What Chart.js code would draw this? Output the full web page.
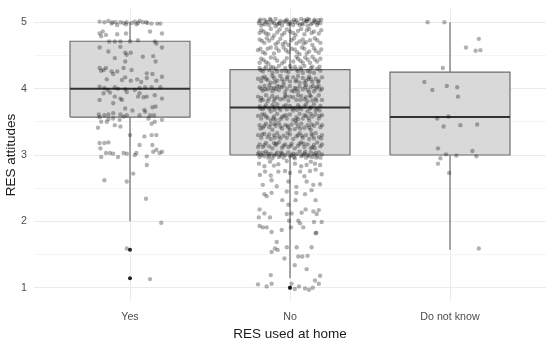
<!DOCTYPE html>
<html>
<head>
<meta charset="utf-8">
<script src="https://cdn.jsdelivr.net/npm/chart.js@4.4.1/dist/chart.umd.min.js"></script>
<style>
  html, body { margin: 0; padding: 0; background: #fff; }
  #wrap { width: 550px; height: 344px; position: relative; }
</style>
</head>
<body>
<div id="wrap"><canvas id="chart"></canvas></div>
<script>
// categories and box statistics
const groups = ['Yes', 'No', 'Do not know'];
const q1 = [3.571, 3.0, 3.0];
const median = [4.0, 3.714, 3.571];
const q3 = [4.714, 4.286, 4.25];
const whiskerLow = [2.0, 1.143, 1.571];
const whiskerHigh = [5.0, 5.0, 5.0];
const outliers = [[1.571, 1.143], [1.0], []];
const xTickValues = [1, 2, 3];

// jittered observations: [offset from category, value]
const yesPoints = [
  [-0.19,5.01],[-0.16,5.0],[-0.135,5.02],[-0.11,5.0],[-0.09,5.0],[-0.06,5.0],[-0.04,4.99],[-0.02,5.0],[0.01,4.99],[0.03,5.01],
  [0.05,4.99],[0.06,5.02],[0.08,5.0],[0.11,4.99],[0.135,4.98],[0.17,4.98],[0.19,4.98],[-0.115,4.98],[-0.08,4.96],[-0.025,4.97],
  [0.04,4.97],[0.1,5.0],
  [-0.19,4.83],[-0.17,4.86],[-0.15,4.81],[-0.08,4.82],[-0.025,4.83],[0.125,4.86],[0.2,4.83],[-0.18,4.79],
  [-0.13,4.71],[-0.095,4.71],[-0.06,4.71],[0.0,4.71],[0.05,4.73],[0.155,4.71],[0.165,4.68],
  [-0.19,4.62],[-0.06,4.63],[-0.03,4.54],[0.005,4.54],[0.2,4.62],[-0.135,4.56],[-0.02,4.51],[-0.095,4.46],[0.08,4.48],[0.145,4.49],
  [-0.03,4.41],[0.16,4.41],
  [-0.19,4.31],[-0.165,4.28],[-0.15,4.31],[-0.04,4.31],[0.01,4.28],[-0.18,4.27],
  [-0.115,4.26],[-0.08,4.26],[-0.105,4.22],[-0.03,4.17],[0.105,4.23],[0.14,4.22],[0.2,4.18],[-0.145,4.14],[-0.05,4.13],[0.005,4.12],
  [0.045,4.14],[0.07,4.1],[0.105,4.16],[0.165,4.12],
  [-0.19,4.03],[-0.16,4.01],[-0.14,3.98],[-0.095,4.02],[-0.075,4.0],[-0.03,3.99],[0.03,3.98],[0.06,4.01],[0.095,4.02],[0.135,4.02],
  [0.19,4.02],[-0.165,3.93],[-0.125,3.94],[-0.02,3.95],[0.06,3.93],
  [-0.095,3.88],[-0.06,3.85],[0.05,3.88],[0.085,3.87],[0.105,3.88],[0.155,3.9],[0.2,3.85],[-0.19,3.83],[-0.05,3.83],
  [-0.105,3.78],[-0.03,3.7],[0.015,3.67],[0.09,3.68],[0.14,3.72],[0.16,3.73],[0.095,3.65],
  [-0.195,3.61],[-0.16,3.6],[-0.135,3.61],[-0.105,3.63],[-0.06,3.61],[-0.04,3.58],[-0.02,3.6],[0.06,3.6],[0.125,3.6],[0.15,3.6],
  [-0.105,3.55],[-0.065,3.53],[-0.135,3.54],[-0.19,3.57],[0.115,3.55],
  [-0.18,3.5],[-0.145,3.5],[-0.095,3.45],[-0.06,3.43],[0.135,3.47],[0.155,3.5],[0.2,3.53],[-0.2,3.41],
  [0.0,3.3],[0.09,3.28],[0.135,3.3],[0.165,3.3],
  [-0.19,3.18],[-0.16,3.18],[-0.135,3.19],[0.06,3.15],[0.14,3.15],
  [-0.185,3.1],[-0.15,3.03],[-0.125,3.03],[-0.105,3.02],[-0.075,2.97],[-0.04,3.03],[-0.02,3.02],[0.03,3.0],[0.04,3.03],[0.105,2.98],
  [0.145,3.05],[0.165,3.08],[0.185,3.03],[0.2,3.05],[-0.18,2.97],
  [0.105,2.85],[-0.16,2.62],[-0.02,2.6],[0.02,2.72],[0.1,2.34],[0.195,1.98],[-0.02,1.59],[0.125,1.13]
];

const noPoints = [
  [-0.19,5.02],[-0.17,4.98],[-0.16,5.04],[-0.14,5.0],[-0.13,4.96],[-0.12,5.03],[-0.1,4.99],[-0.09,5.05],[-0.08,4.97],[-0.06,5.02],
  [-0.05,4.95],[-0.04,5.0],[-0.02,5.04],[-0.01,4.97],[0.01,5.01],[0.02,4.96],[0.04,5.03],[0.05,4.99],[0.07,5.05],[0.08,4.97],
  [0.1,5.01],[0.11,4.95],[0.12,5.04],[0.14,4.99],[0.15,5.02],[0.17,4.96],[0.18,5.03],[0.19,4.99],[-0.18,4.95],[-0.11,5.0],
  [-0.07,4.98],[0.03,5.0],[0.09,5.03],[0.16,5.0],[-0.15,5.01],[0.0,4.98],[0.13,4.97],[-0.03,5.02],[0.06,4.96],[-0.195,4.99],
  [0.195,5.04],[-0.09,4.94],[0.11,5.05],
  [-0.185,5.04],[-0.155,4.97],[-0.125,5.05],[-0.065,4.99],[-0.015,5.01],[0.025,5.04],[0.075,4.98],[0.105,5.02],[0.155,5.04],[0.175,4.99],
  [-0.18,4.88],[-0.15,4.83],[-0.12,4.9],[-0.08,4.85],[-0.05,4.81],[-0.02,4.89],[0.02,4.84],[0.05,4.87],[0.09,4.82],[0.12,4.9],
  [0.15,4.86],[0.18,4.83],[-0.1,4.8],[0.07,4.9],[-0.19,4.84],[0.0,4.86],
  [-0.165,4.86],[-0.135,4.82],[-0.065,4.89],[-0.035,4.84],[0.035,4.81],[0.105,4.88],[0.135,4.84],[0.195,4.88],
  [-0.19,4.74],[-0.16,4.69],[-0.13,4.72],[-0.09,4.67],[-0.06,4.75],[-0.03,4.7],[0.01,4.73],[0.04,4.68],[0.08,4.74],[0.1,4.7],
  [0.14,4.66],[0.17,4.73],[0.19,4.69],[-0.11,4.76],[0.06,4.71],[-0.01,4.66],
  [-0.175,4.72],[-0.145,4.76],[-0.075,4.7],[-0.045,4.67],[0.025,4.76],[0.085,4.68],[0.125,4.73],[0.155,4.76],
  [-0.2,4.58],[-0.17,4.55],[-0.14,4.6],[-0.1,4.53],[-0.07,4.57],[-0.04,4.62],[-0.01,4.55],[0.03,4.59],[0.06,4.52],[0.09,4.6],
  [0.12,4.56],[0.15,4.61],[0.18,4.54],[-0.12,4.62],[0.01,4.6],[0.16,4.57],
  [-0.185,4.6],[-0.155,4.53],[-0.085,4.61],[-0.025,4.58],[0.045,4.55],[0.075,4.62],[0.105,4.53],[0.195,4.59],
  [-0.18,4.45],[-0.15,4.4],[-0.12,4.47],[-0.08,4.42],[-0.05,4.38],[-0.02,4.46],[0.02,4.41],[0.05,4.45],[0.08,4.39],[0.11,4.44],
  [0.14,4.48],[0.17,4.41],[0.19,4.45],[-0.19,4.39],[0.04,4.48],
  [-0.165,4.43],[-0.135,4.38],[-0.095,4.46],[-0.035,4.41],[0.065,4.42],[0.095,4.47],[0.125,4.39],[0.155,4.44],
  [-0.19,4.31],[-0.17,4.26],[-0.15,4.33],[-0.13,4.28],[-0.11,4.24],[-0.09,4.3],[-0.07,4.34],[-0.05,4.27],[-0.03,4.31],[-0.01,4.25],
  [0.01,4.3],[0.03,4.33],[0.05,4.26],[0.07,4.29],[0.09,4.34],[0.11,4.27],[0.13,4.31],[0.15,4.24],[0.17,4.3],[0.19,4.27],
  [-0.16,4.3],[-0.08,4.26],[0.0,4.34],[0.08,4.24],[0.14,4.33],[-0.12,4.33],[0.04,4.29],
  [-0.185,4.28],[-0.105,4.32],[-0.025,4.27],[0.065,4.32],[0.125,4.25],[0.185,4.33],
  [-0.2,4.15],[-0.18,4.11],[-0.16,4.18],[-0.14,4.13],[-0.12,4.09],[-0.1,4.16],[-0.08,4.12],[-0.06,4.19],[-0.04,4.1],[-0.02,4.15],
  [0.0,4.11],[0.02,4.17],[0.04,4.13],[0.06,4.09],[0.08,4.16],[0.1,4.12],[0.12,4.18],[0.14,4.1],[0.16,4.15],[0.18,4.12],
  [0.2,4.17],[-0.15,4.15],[-0.05,4.14],[0.05,4.19],[0.13,4.14],[-0.11,4.19],[0.09,4.09],
  [-0.175,4.16],[-0.095,4.1],[-0.015,4.18],[0.035,4.11],[0.115,4.15],[0.175,4.1],
  [-0.19,4.02],[-0.17,3.97],[-0.16,4.04],[-0.14,3.99],[-0.13,4.05],[-0.11,3.96],[-0.1,4.01],[-0.08,4.04],[-0.07,3.98],[-0.05,4.02],
  [-0.03,3.95],[-0.02,4.0],[0.0,4.04],[0.01,3.97],[0.03,4.01],[0.05,3.96],[0.06,4.03],[0.08,3.99],[0.1,4.05],[0.11,3.98],
  [0.13,4.02],[0.15,3.96],[0.16,4.0],[0.18,4.04],[0.19,3.98],[-0.18,4.0],[-0.09,3.99],[-0.04,4.05],[0.04,4.0],[0.12,3.95],
  [0.17,4.02],[-0.12,4.01],
  [-0.155,3.99],[-0.065,4.03],[0.025,3.96],[0.095,4.02],[0.145,4.04],[0.2,4.0],
  [-0.2,3.88],[-0.17,3.83],[-0.15,3.9],[-0.13,3.85],[-0.1,3.81],[-0.08,3.87],[-0.06,3.84],[-0.03,3.9],[-0.01,3.82],[0.02,3.87],
  [0.04,3.83],[0.07,3.89],[0.09,3.84],[0.11,3.81],[0.13,3.88],[0.16,3.85],[0.18,3.9],[0.2,3.83],[-0.18,3.86],[-0.11,3.89],
  [-0.04,3.85],[0.05,3.9],[0.14,3.82],[-0.14,3.81],[0.0,3.88],[0.1,3.87],
  [-0.185,3.82],[-0.095,3.85],[-0.025,3.88],[0.065,3.83],[0.125,3.9],[0.165,3.82],
  [-0.19,3.73],[-0.17,3.69],[-0.15,3.75],[-0.13,3.7],[-0.12,3.66],[-0.1,3.72],[-0.08,3.76],[-0.06,3.68],[-0.04,3.73],[-0.02,3.69],
  [0.0,3.74],[0.02,3.67],[0.03,3.71],[0.05,3.75],[0.07,3.69],[0.09,3.73],[0.11,3.66],[0.13,3.72],[0.15,3.76],[0.17,3.7],
  [0.19,3.74],[-0.16,3.72],[-0.07,3.71],[0.01,3.7],[0.1,3.76],[0.16,3.67],[-0.11,3.75],[0.06,3.72],
  [-0.185,3.7],[-0.095,3.68],[-0.025,3.75],[0.045,3.68],[0.125,3.7],[0.185,3.67],
  [-0.2,3.59],[-0.18,3.55],[-0.16,3.61],[-0.14,3.56],[-0.12,3.52],[-0.1,3.58],[-0.08,3.62],[-0.06,3.54],[-0.04,3.59],[-0.02,3.55],
  [0.0,3.61],[0.02,3.53],[0.04,3.57],[0.06,3.62],[0.08,3.55],[0.1,3.59],[0.12,3.52],[0.14,3.58],[0.16,3.61],[0.18,3.55],
  [0.2,3.6],[-0.15,3.58],[-0.05,3.57],[0.05,3.54],[0.13,3.62],[-0.09,3.53],[0.09,3.6],
  [-0.175,3.61],[-0.105,3.55],[-0.025,3.6],[0.035,3.52],[0.115,3.56],[0.185,3.59],
  [-0.19,3.45],[-0.17,3.41],[-0.15,3.47],[-0.13,3.42],[-0.11,3.38],[-0.09,3.44],[-0.07,3.48],[-0.05,3.4],[-0.03,3.45],[-0.01,3.41],
  [0.01,3.46],[0.03,3.39],[0.05,3.43],[0.07,3.47],[0.09,3.41],[0.11,3.45],[0.13,3.38],[0.15,3.44],[0.17,3.48],[0.19,3.42],
  [-0.16,3.44],[-0.06,3.43],[0.04,3.48],[0.12,3.41],[-0.12,3.46],[0.0,3.38],
  [-0.185,3.4],[-0.095,3.47],[-0.015,3.44],[0.065,3.4],[0.135,3.46],[0.2,3.45],
  [-0.2,3.3],[-0.18,3.26],[-0.16,3.32],[-0.14,3.27],[-0.12,3.24],[-0.1,3.3],[-0.08,3.33],[-0.06,3.25],[-0.04,3.29],[-0.02,3.26],
  [0.0,3.31],[0.02,3.24],[0.04,3.28],[0.06,3.33],[0.08,3.26],[0.1,3.3],[0.12,3.24],[0.14,3.29],[0.16,3.33],[0.18,3.27],
  [0.2,3.3],[-0.13,3.31],[0.05,3.3],[0.15,3.25],[-0.07,3.28],
  [-0.175,3.31],[-0.095,3.26],[-0.015,3.33],[0.075,3.29],[0.135,3.32],[0.195,3.25],
  [-0.19,3.16],[-0.17,3.12],[-0.15,3.18],[-0.13,3.13],[-0.11,3.1],[-0.09,3.15],[-0.07,3.19],[-0.05,3.11],[-0.03,3.16],[-0.01,3.12],
  [0.01,3.17],[0.03,3.1],[0.05,3.14],[0.07,3.19],[0.09,3.12],[0.11,3.16],[0.13,3.1],[0.15,3.15],[0.17,3.19],[0.19,3.13],
  [-0.16,3.15],[-0.04,3.14],[0.06,3.17],[0.14,3.12],[-0.1,3.18],
  [-0.2,3.12],[-0.085,3.17],[0.005,3.14],[0.085,3.17],[0.155,3.1],[0.2,3.16],
  [-0.2,3.01],[-0.19,2.97],[-0.17,3.03],[-0.16,2.98],[-0.15,3.05],[-0.13,2.99],[-0.12,3.02],[-0.11,2.95],[-0.09,3.01],[-0.08,3.04],
  [-0.07,2.97],[-0.05,3.02],[-0.04,2.96],[-0.03,3.0],[-0.01,3.04],[0.0,2.98],[0.02,3.02],[0.03,2.95],[0.04,3.01],[0.06,3.05],
  [0.07,2.98],[0.09,3.02],[0.1,2.96],[0.11,3.0],[0.13,3.04],[0.14,2.97],[0.15,3.01],[0.17,2.99],[0.18,3.04],[0.19,2.96],
  [0.2,3.01],[-0.18,3.0],[-0.14,3.02],[-0.06,2.99],[0.01,3.0],[0.08,3.0],[0.12,2.98],[0.16,3.03],[-0.1,2.99],
  [-0.195,3.04],[-0.135,2.96],[-0.055,3.04],[0.025,2.97],[0.095,3.05],[0.165,2.96],
  [-0.194,2.87],[-0.125,2.9],[-0.073,2.86],[0.031,2.87],[0.104,2.85],[0.156,2.87],[0.188,2.85],[-0.16,2.83],[-0.02,2.91],[0.07,2.83],
  [0.13,2.9],[-0.1,2.84],
  [-0.188,2.7],[-0.156,2.75],[-0.073,2.75],[-0.031,2.76],[0.0,2.73],[0.063,2.75],[0.125,2.76],[0.16,2.78],[0.198,2.71],[-0.12,2.69],
  [0.09,2.68],
  [-0.115,2.62],[-0.083,2.53],[-0.01,2.6],[0.104,2.6],[0.146,2.55],[0.188,2.56],[-0.17,2.55],[0.04,2.52],
  [-0.16,2.41],[-0.146,2.38],[-0.115,2.43],[-0.02,2.45],[0.04,2.43],[0.094,2.41],[0.135,2.47],
  [-0.048,2.32],[0.035,2.32],[0.16,2.32],[-0.01,2.25],
  [-0.19,2.18],[-0.16,2.12],[-0.02,2.11],[0.01,2.12],[0.073,2.13],[0.098,2.18],[0.146,2.15],[0.18,2.17],[0.167,2.11],
  [-0.195,2.06],[-0.125,2.06],[-0.006,2.01],[0.052,2.01],[0.063,1.97],[0.15,1.99],[0.198,1.99],
  [-0.19,1.93],[-0.17,1.91],[-0.146,1.91],[-0.115,1.84],[-0.052,1.87],[0.006,1.91],[0.083,1.91],[0.16,1.82],[0.165,1.83],
  [-0.083,1.69],
  [-0.094,1.59],[-0.077,1.57],[-0.115,1.54],[-0.02,1.61],[0.042,1.61],[0.135,1.61],
  [-0.035,1.44],[0.052,1.47],[0.077,1.47],[0.11,1.48],
  [0.03,1.34],[0.104,1.28],
  [-0.12,1.19],[0.188,1.18],[0.156,1.11],
  [-0.2,1.05],[-0.146,1.02],[-0.115,1.06],[0.0,1.0],[0.01,1.06],[0.03,0.98],[0.056,1.02],[0.094,0.99],[0.119,0.97],[0.142,1.0],
  [0.18,1.06]
];

const dkPoints = [
  [-0.14,5.0],[-0.035,5.0],[0.18,4.75],[0.1,4.62],[0.16,4.57],[0.19,4.58],[-0.045,4.31],[-0.16,4.1],[-0.11,3.98],[-0.02,4.04],
  [0.045,4.02],[0.05,3.88],[-0.08,3.55],[-0.01,3.58],[-0.04,3.43],[0.065,3.45],[0.17,3.46],[-0.075,3.1],[-0.025,3.01],[0.04,2.99],
  [0.14,3.06],[0.165,2.98],[-0.06,2.95],[-0.075,2.87],[-0.005,2.73],[0.18,1.59]
];

const FONT = "'Liberation Sans', Arial, sans-serif";
const BOX_HALF = 0.375;
const LINE_GREY = '#6e6e6e';

const datasets = [];
[yesPoints, noPoints, dkPoints].forEach((pts, i) => {
  datasets.push({
    data: pts.map(p => ({ x: i + 1 + p[0], y: p[1] })),
    pointRadius: 2.2,
    backgroundColor: 'rgba(0,0,0,0.3)',
    borderWidth: 0,
    order: 1
  });
});

groups.forEach((g, i) => {
  const c = i + 1;
  datasets.push({
    data: outliers[i].map(v => ({ x: c, y: v })),
    pointRadius: 2,
    backgroundColor: '#222',
    borderWidth: 0,
    order: 2
  });
  datasets.push({
    data: [{ x: c - BOX_HALF, y: median[i] }, { x: c + BOX_HALF, y: median[i] }],
    showLine: true, borderColor: '#333', borderWidth: 2, pointRadius: 0, order: 3
  });
  datasets.push({
    data: [{ x: c, y: q3[i] }, { x: c, y: whiskerHigh[i] }],
    showLine: true, borderColor: LINE_GREY, borderWidth: 1.2, pointRadius: 0, order: 4
  });
  datasets.push({
    data: [{ x: c, y: q1[i] }, { x: c, y: whiskerLow[i] }],
    showLine: true, borderColor: LINE_GREY, borderWidth: 1.2, pointRadius: 0, order: 4
  });
  datasets.push({
    data: [
      { x: c - BOX_HALF, y: q1[i] }, { x: c + BOX_HALF, y: q1[i] },
      { x: c + BOX_HALF, y: q3[i] }, { x: c - BOX_HALF, y: q3[i] },
      { x: c - BOX_HALF, y: q1[i] }
    ],
    showLine: true, fill: 'shape', backgroundColor: '#d9d9d9',
    borderColor: LINE_GREY, borderWidth: 1.2, borderJoinStyle: 'miter',
    pointRadius: 0, order: 5
  });
});

new Chart(document.getElementById('chart'), {
  type: 'scatter',
  data: { datasets },
  options: {
    responsive: true,
    maintainAspectRatio: false,
    animation: false,
    events: [],
    layout: { padding: { top: 9, right: 4, left: 0, bottom: 0 } },
    plugins: { legend: { display: false }, tooltip: { enabled: false } },
    scales: {
      x: {
        type: 'linear', min: 0.4, max: 3.6,
        afterBuildTicks: s => { s.ticks = xTickValues.map(v => ({ value: v })); },
        afterFit: s => { s.height = 43; s.paddingLeft = 0; s.paddingRight = 0; },
        ticks: {
          callback: v => groups[v - 1],
          color: '#4d4d4d', font: { family: FONT, size: 10.7 },
          padding: 10, autoSkip: false, maxRotation: 0
        },
        grid: { color: '#ebebeb', lineWidth: 1, drawTicks: false },
        border: { display: false },
        title: {
          display: true, text: 'RES used at home', color: '#1a1a1a',
          font: { family: FONT, size: 13.5 }, padding: { top: 0, bottom: 1.5 }
        }
      },
      y: {
        min: 0.8, max: 5.2,
        afterFit: s => { s.width = 34; s.paddingTop = 0; s.paddingBottom = 0; },
        ticks: {
          stepSize: 0.5, includeBounds: false, autoSkip: false,
          callback: v => Number.isInteger(v) ? v : '',
          color: '#4d4d4d', font: { family: FONT, size: 10.7 }, padding: 7
        },
        grid: {
          color: c => Number.isInteger(c.tick.value) ? '#ebebeb' : '#f4f4f4',
          lineWidth: 1, drawTicks: false
        },
        border: { display: false },
        title: {
          display: true, text: 'RES attitudes', color: '#1a1a1a',
          font: { family: FONT, size: 13.5 }, padding: { top: 3, bottom: 0 }
        }
      }
    }
  }
});
</script>
</body>
</html>
